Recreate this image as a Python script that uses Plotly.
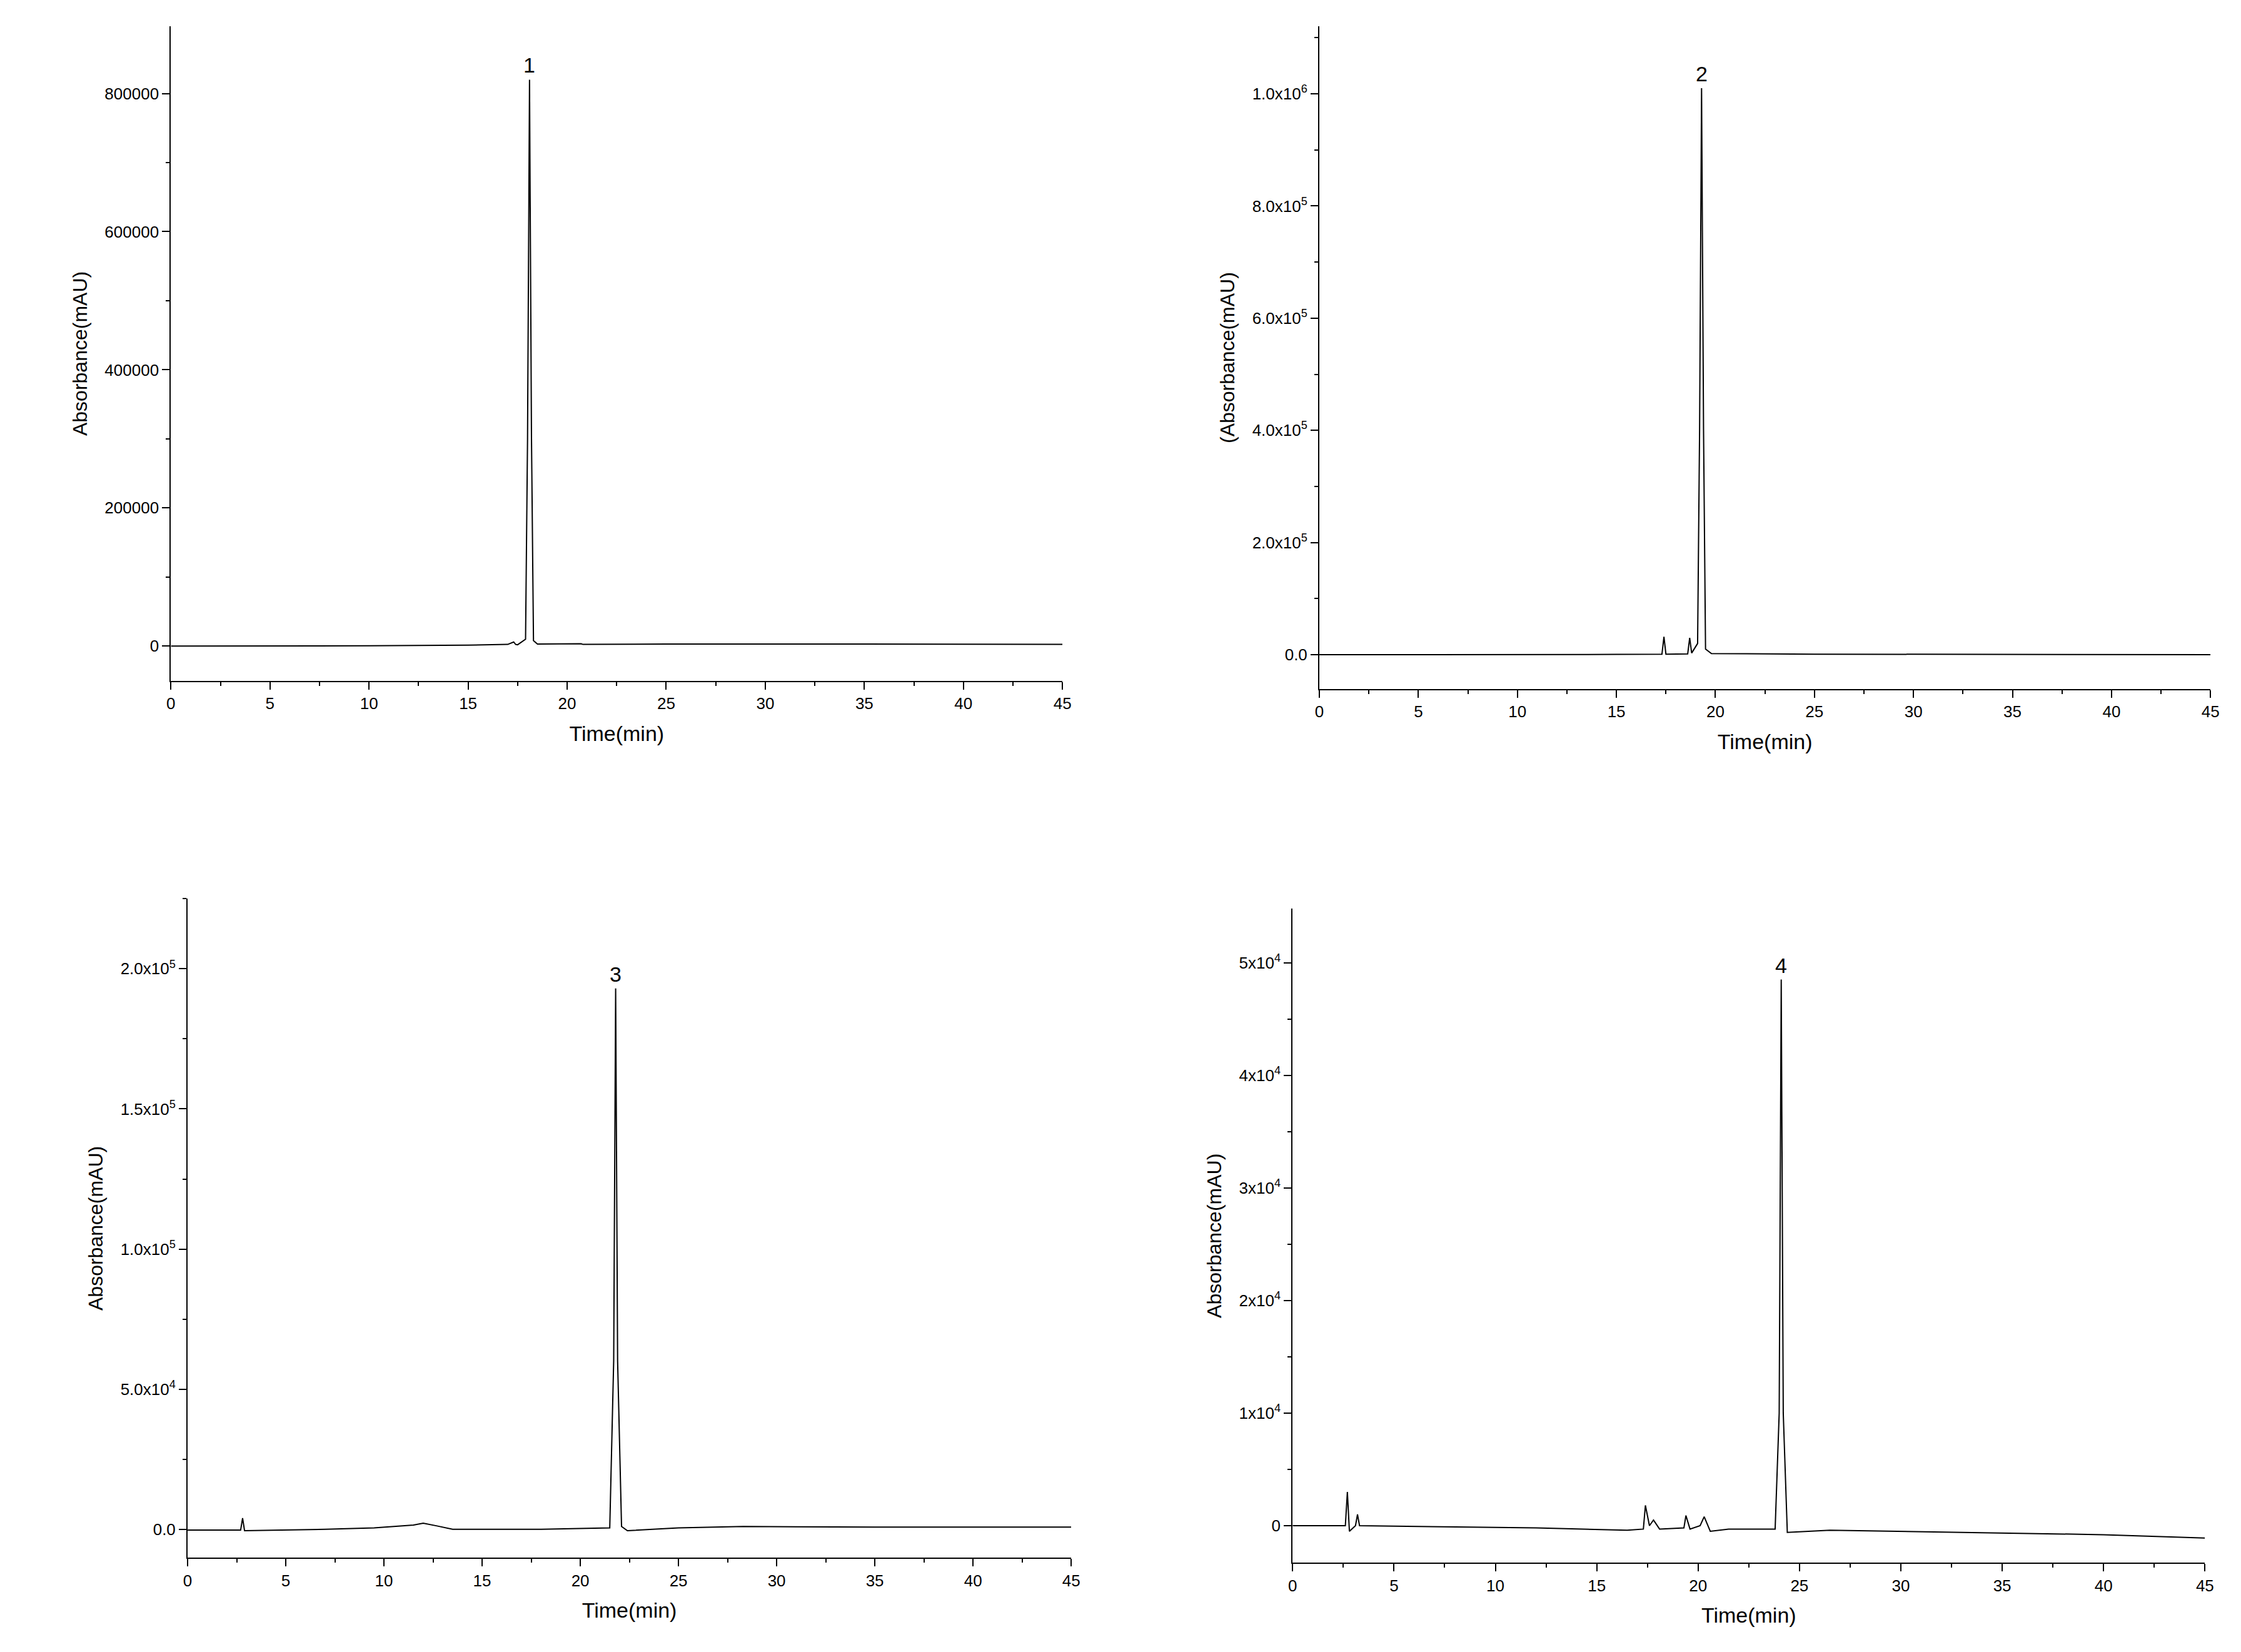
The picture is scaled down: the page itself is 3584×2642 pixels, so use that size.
import plotly.graph_objects as go

# Panel data (time in min, absorbance in mAU)
t1 = [0, 5, 10, 15, 17.0, 17.3, 17.4, 17.5, 17.9, 18.0, 18.1, 18.2, 18.3, 18.5, 20.7, 20.8, 25, 35, 45]
a1 = [0, 0, 500, 1500, 2500, 6000, 2500, 2000, 10000, 300000, 820000, 300000, 8000, 3000, 3500, 2500, 3000, 3000, 2500]

t2 = [0, 5, 10, 15, 17.3, 17.4, 17.5, 18.6, 18.7, 18.8, 19.1, 19.2, 19.3, 19.4, 19.5, 19.8, 25, 35, 45]
a2 = [0, 0, 0, 500, 1000, 32000, 1000, 1500, 30000, 3000, 20000, 400000, 1010000, 400000, 10000, 2000, 1000, 500, 0]

t3 = [0, 2.7, 2.8, 2.9, 7.0, 9.5, 11.5, 12.0, 12.7, 13.5, 18, 21.5, 21.7, 21.8, 21.9, 22.1, 22.4, 25, 28.3, 35, 45]
a3 = [-300, -300, 4000, -500, 0, 500, 1500, 2200, 1200, 0, 0, 500, 60000, 193000, 60000, 1000, -500, 500, 1000, 800, 800]

t4 = [0, 2.6, 2.7, 2.8, 3.1, 3.2, 3.3, 8, 12, 16.5, 17.3, 17.4, 17.6, 17.8, 18.1, 19.3, 19.4, 19.6, 20.1, 20.3, 20.6, 21.5, 23.8, 24.0, 24.1, 24.2, 24.4, 26.5, 30, 40, 45]
a4 = [0, 0, 3000, -500, 0, 1000, 0, -100, -200, -400, -300, 1800, 0, 500, -300, -200, 900, -300, 0, 800, -500, -300, -300, 10000, 48500, 10000, -600, -400, -500, -800, -1100]

peak_labels = ["1", "2", "3", "4"]
peak_times = [18.1, 19.3, 21.8, 24.1]
peak_heights = [820000, 1010000, 193000, 48500]

y_titles = ["Absorbance(mAU)", "(Absorbance(mAU)", "Absorbance(mAU)", "Absorbance(mAU)"]
y_ranges = [[-50000, 897000], [-61000, 1120000], [-10200, 225000], [-3300, 54800]]
y_tickvals = [[0, 200000, 400000, 600000, 800000],
              [0, 200000, 400000, 600000, 800000, 1000000],
              [0, 50000, 100000, 150000, 200000],
              [0, 10000, 20000, 30000, 40000, 50000]]
y_ticktext = [["0", "200000", "400000", "600000", "800000"],
              ["0.0", "2.0x10<sup>5</sup>", "4.0x10<sup>5</sup>", "6.0x10<sup>5</sup>", "8.0x10<sup>5</sup>", "1.0x10<sup>6</sup>"],
              ["0.0", "5.0x10<sup>4</sup>", "1.0x10<sup>5</sup>", "1.5x10<sup>5</sup>", "2.0x10<sup>5</sup>"],
              ["0", "1x10<sup>4</sup>", "2x10<sup>4</sup>", "3x10<sup>4</sup>", "4x10<sup>4</sup>", "5x10<sup>4</sup>"]]
x_ticks = [0, 5, 10, 15, 20, 25, 30, 35, 40, 45]

xdoms = [[0.0725, 0.4727], [0.588, 0.988], [0.0800, 0.4766], [0.576, 0.9855]]
ydoms = [[0.591, 0.987], [0.586, 0.987], [0.060, 0.459], [0.057, 0.453]]

data = [(t1, a1), (t2, a2), (t3, a3), (t4, a4)]
fig = go.Figure()
font = dict(family="Liberation Sans, Arial, sans-serif", color="black")
for i, (t, a) in enumerate(data):
    n = "" if i == 0 else str(i + 1)
    fig.add_trace(go.Scatter(x=t, y=a, mode="lines", line=dict(color="black", width=2),
                             xaxis="x" + n, yaxis="y" + n, showlegend=False))
    fig.add_annotation(x=peak_times[i], y=peak_heights[i], text=peak_labels[i], showarrow=False,
                       yanchor="bottom", yshift=2, xref="x" + n, yref="y" + n,
                       font=dict(size=34, **font))
    common = dict(showgrid=False, zeroline=False, showline=True, linecolor="black", linewidth=2,
                  ticks="outside", ticklen=12, tickwidth=2, tickcolor="black",
                  tickfont=dict(size=26, **font),
                  minor=dict(ticks="outside", ticklen=6, tickwidth=2, tickcolor="black"))
    fig.update_layout(**{
        "xaxis" + n: dict(domain=xdoms[i], range=[0, 45], tickvals=x_ticks,
                          anchor="y" + n, title=dict(text="Time(min)", font=dict(size=34, **font), standoff=22),
                          **common),
        "yaxis" + n: dict(domain=ydoms[i], range=y_ranges[i], tickvals=y_tickvals[i],
                          ticktext=y_ticktext[i], anchor="x" + n,
                          title=dict(text=y_titles[i], font=dict(size=32, **font), standoff=18),
                          **common),
    })
    fig.layout["xaxis" + n].minor.dtick = 2.5
    fig.layout["yaxis" + n].minor.dtick = (y_tickvals[i][1] - y_tickvals[i][0]) / 2

fig.update_layout(width=3584, height=2642, plot_bgcolor="white", paper_bgcolor="white",
                  margin=dict(l=0, r=0, t=0, b=0))
fig.write_html("out.html")
